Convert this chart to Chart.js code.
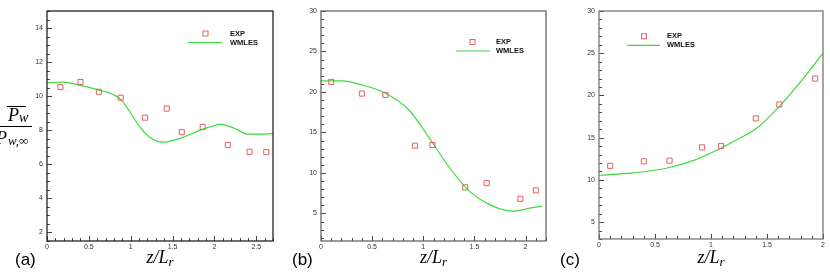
<!DOCTYPE html>
<html>
<head>
<meta charset="utf-8">
<script src="https://cdn.jsdelivr.net/npm/chart.js@4"></script>
<style>
html, body { margin: 0; padding: 0; background: #fff; }
#wrap { position: relative; width: 830px; height: 274px; }
canvas { position: absolute; top: 0; }
</style>
</head>
<body>
<div id="wrap">
  <canvas id="ca" width="280" height="274" style="left:0px"></canvas>
  <canvas id="cb" width="275" height="274" style="left:280px"></canvas>
  <canvas id="cc" width="275" height="274" style="left:555px"></canvas>
</div>
<script>
// panel (a)
const expAx = [0.16, 0.40, 0.62, 0.88, 1.17, 1.43, 1.61, 1.86, 2.16, 2.42, 2.62];
const expAy = [10.53, 10.83, 10.26, 9.91, 8.74, 9.27, 7.89, 8.20, 7.14, 6.74, 6.72];
const lesAx = [0, 0.19, 0.40, 0.62, 0.80, 0.89, 1.00, 1.12, 1.24, 1.38, 1.56, 1.84, 2.08, 2.24, 2.40, 2.52, 2.70];
const lesAy = [10.79, 10.82, 10.63, 10.36, 10.07, 9.77, 9.00, 8.12, 7.54, 7.30, 7.48, 8.02, 8.35, 8.12, 7.77, 7.77, 7.80];

// panel (b)
const expBx = [0.10, 0.40, 0.63, 0.92, 1.09, 1.41, 1.62, 1.95, 2.10];
const expBy = [21.25, 19.8, 19.64, 13.37, 13.45, 8.22, 8.75, 6.81, 7.85];
const lesBx = [0, 0.20, 0.40, 0.63, 0.86, 1.05, 1.25, 1.44, 1.64, 1.84, 1.90, 2.03, 2.16];
const lesBy = [21.37, 21.37, 20.88, 19.85, 17.78, 14.48, 10.77, 7.88, 6.15, 5.32, 5.30, 5.62, 5.90];

// panel (c)
const expCx = [0.10, 0.40, 0.63, 0.92, 1.09, 1.40, 1.61, 1.93];
const expCy = [11.66, 12.2, 12.28, 13.85, 14.02, 17.28, 18.93, 22.0];
const lesCx = [0, 0.30, 0.60, 0.84, 1.05, 1.23, 1.41, 1.61, 1.79, 2.0];
const lesCy = [10.55, 10.83, 11.38, 12.28, 13.5, 14.76, 16.14, 18.7, 21.46, 25.0];

const serif = '"Liberation Serif", "Times New Roman", serif';
const sans = '"Liberation Sans", Arial, sans-serif';

function pts(xs, ys) {
    return xs.map((x, i) => ({ x: x, y: ys[i] }));
}

function isMajor(v, step) {
    const r = v / step;
    return Math.abs(r - Math.round(r)) < 1e-6;
}

// tick positions between the scale limits, at multiples of step
function tickValues(scale, step) {
    const out = [];
    const start = Math.ceil(scale.min / step - 1e-6);
    const end = Math.floor(scale.max / step + 1e-6);
    for (let i = start; i <= end; i++) out.push(i * step);
    return out;
}

// frame, inner ticks, legend and text labels
const decoPlugin = {
    id: 'deco',
    afterDraw(chart, args, o) {
        const ctx = chart.ctx, a = chart.chartArea;
        const xs = chart.scales.x, ys = chart.scales.y;
        ctx.save();

        ctx.strokeStyle = '#444';
        ctx.lineWidth = 1;
        ctx.beginPath();
        tickValues(xs, o.xMinor).forEach(v => {
            const px = Math.round(xs.getPixelForValue(v)) + 0.5;
            const len = isMajor(v, o.xMajor) ? 5 : 3;
            ctx.moveTo(px, a.bottom);
            ctx.lineTo(px, a.bottom - len);
        });
        tickValues(ys, o.yMinor).forEach(v => {
            const py = Math.round(ys.getPixelForValue(v)) + 0.5;
            const len = isMajor(v, o.yMajor) ? 5 : 3;
            ctx.moveTo(a.left, py);
            ctx.lineTo(a.left + len, py);
        });
        ctx.stroke();

        ctx.strokeStyle = o.frame;
        ctx.lineWidth = 1.3;
        ctx.strokeRect(a.left, a.top, a.right - a.left, a.bottom - a.top);

        // legend
        const exp = chart.data.datasets[0], les = chart.data.datasets[1];
        const L = o.legend;
        ctx.strokeStyle = exp.borderColor;
        ctx.lineWidth = 1;
        ctx.strokeRect(L.sx - 2.5, L.sy - 2.5, 5, 5);
        ctx.strokeStyle = les.borderColor;
        ctx.lineWidth = les.borderWidth;
        ctx.beginPath();
        ctx.moveTo(L.lx1, L.sy + 9);
        ctx.lineTo(L.lx2, L.sy + 9);
        ctx.stroke();
        ctx.fillStyle = '#111';
        ctx.font = 'bold 7.5px ' + sans;
        ctx.textBaseline = 'middle';
        ctx.fillText(exp.label, L.tx, L.sy);
        ctx.fillText(les.label, L.tx, L.sy + 9);

        // x axis title z/L_r
        ctx.textBaseline = 'alphabetic';
        ctx.fillStyle = '#000';
        const cx = (a.left + a.right) / 2;
        ctx.font = 'italic 18px ' + serif;
        const w1 = ctx.measureText('z/L').width;
        ctx.font = 'italic 13px ' + serif;
        const w2 = ctx.measureText('r').width;
        const x0 = cx - (w1 + w2) / 2;
        ctx.font = 'italic 18px ' + serif;
        ctx.fillText('z/L', x0, 263);
        ctx.font = 'italic 13px ' + serif;
        ctx.fillText('r', x0 + w1, 266);

        // panel label
        ctx.font = '17px ' + sans;
        ctx.fillText(o.tag, o.tagX, 265);

        // y axis title (only panel a)
        if (o.yTitle) {
            ctx.font = 'italic 18px ' + serif;
            ctx.fillText('P', 8, 121);
            ctx.font = 'italic 14px ' + serif;
            ctx.fillText('w', 19, 122);
            ctx.lineWidth = 1;
            ctx.strokeStyle = '#000';
            ctx.beginPath();
            ctx.moveTo(7, 106.5); ctx.lineTo(26, 106.5);
            ctx.moveTo(0, 126.5); ctx.lineTo(32, 126.5);
            ctx.stroke();
            ctx.font = 'italic 18px ' + serif;
            ctx.fillText('P', -4, 144);
            ctx.font = 'italic 13px ' + serif;
            ctx.fillText('w,\u221e', 8, 145);
        }
        ctx.restore();
    }
};

function makePanel(id, p) {
    const ctx = document.getElementById(id).getContext('2d');
    return new Chart(ctx, {
        type: 'line',
        data: {
            datasets: [{
                label: 'EXP',
                data: pts(p.ex, p.ey),
                showLine: false,
                borderColor: 'rgb(226, 98, 98)',
                backgroundColor: 'rgba(0,0,0,0)',
                pointStyle: 'rect',
                pointRadius: 3.6,
                pointBorderWidth: 1
            }, {
                label: 'WMLES',
                data: pts(p.lx, p.ly),
                borderColor: 'rgb(58, 220, 58)',
                borderWidth: 1.2,
                pointRadius: 0,
                cubicInterpolationMode: 'monotone',
                fill: false
            }]
        },
        options: {
            responsive: false,
            animation: false,
            events: [],
            layout: { padding: { top: 11, right: p.padRight, left: 0, bottom: 0 } },
            plugins: {
                legend: { display: false },
                tooltip: { enabled: false },
                deco: p.deco
            },
            scales: {
                x: {
                    type: 'linear',
                    min: p.xMin, max: p.xMax,
                    afterFit: s => { s.height = p.bottomH; },
                    grid: { display: false, drawTicks: false },
                    border: { display: false },
                    ticks: {
                        stepSize: p.deco.xMajor,
                        includeBounds: false,
                        autoSkip: false,
                        maxRotation: 0,
                        padding: 2,
                        color: '#333',
                        font: { family: sans, size: 7 },
                        callback: v => isMajor(v, p.deco.xMajor) ? String(Math.round(v * 10) / 10) : ''
                    }
                },
                y: {
                    type: 'linear',
                    min: p.yMin, max: p.yMax,
                    afterFit: s => { s.width = p.leftW; },
                    grid: { display: false, drawTicks: false },
                    border: { display: false },
                    ticks: {
                        stepSize: p.deco.yMajor,
                        includeBounds: false,
                        autoSkip: false,
                        padding: 4,
                        color: '#333',
                        font: { family: sans, size: 7 },
                        callback: v => isMajor(v, p.deco.yMajor) ? String(Math.round(v)) : ''
                    }
                }
            }
        },
        plugins: [decoPlugin]
    });
}

makePanel('ca', {
    ex: expAx, ey: expAy, lx: lesAx, ly: lesAy,
    xMin: 0, xMax: 2.7, yMin: 1.5, yMax: 15,
    leftW: 47, padRight: 7, bottomH: 33,
    deco: {
        xMajor: 0.5, xMinor: 0.1, yMajor: 2, yMinor: 0.5,
        frame: '#222', tag: '(a)', tagX: 15, yTitle: true,
        legend: { sx: 205.5, sy: 33.5, lx1: 188, lx2: 222, tx: 230 }
    }
});

makePanel('cb', {
    ex: expBx, ey: expBy, lx: lesBx, ly: lesBy,
    xMin: 0, xMax: 2.2, yMin: 1.6, yMax: 30,
    leftW: 41, padRight: 9, bottomH: 33,
    deco: {
        xMajor: 0.5, xMinor: 0.1, yMajor: 5, yMinor: 1,
        frame: '#666', tag: '(b)', tagX: 12, yTitle: false,
        legend: { sx: 192.5, sy: 42, lx1: 176, lx2: 210, tx: 216 }
    }
});

makePanel('cc', {
    ex: expCx, ey: expCy, lx: lesCx, ly: lesCy,
    xMin: 0, xMax: 2, yMin: 3, yMax: 30,
    leftW: 44, padRight: 7, bottomH: 35,
    deco: {
        xMajor: 0.5, xMinor: 0.1, yMajor: 5, yMinor: 1,
        frame: '#777', tag: '(c)', tagX: 5, yTitle: false,
        legend: { sx: 89, sy: 36.3, lx1: 72, lx2: 105, tx: 112 }
    }
});
</script>
</body>
</html>
